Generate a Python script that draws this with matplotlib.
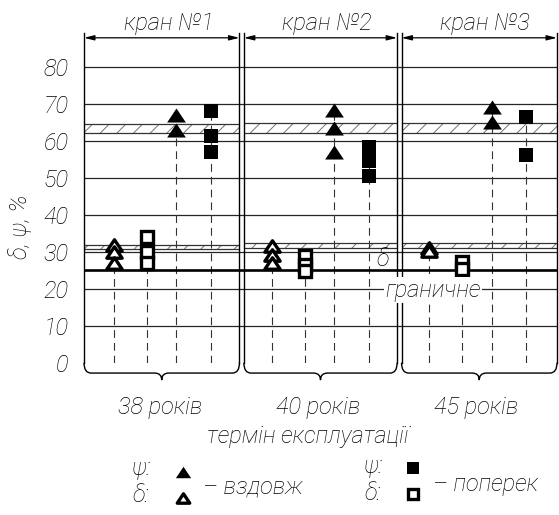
import matplotlib
matplotlib.use('Agg')
import matplotlib.pyplot as plt
from matplotlib.path import Path
from matplotlib.patches import PathPatch
from matplotlib.lines import Line2D

plt.rcParams['font.family'] = ['Roboto', 'DejaVu Sans']
plt.rcParams['font.style'] = 'italic'
plt.rcParams['font.weight'] = 'light'
plt.rcParams['hatch.linewidth'] = 0.7

# data
cranes = ['кран №1', 'кран №2', 'кран №3']
ages = ['38 років', '40 років', '45 років']
delta_long = [[31.8, 30.0, 27.0], [31.5, 29.0, 27.0], [31.0, 30.3]]
delta_trans = [[34.0, 29.8, 27.0], [28.8, 26.5, 24.8], [27.3, 25.3]]
psi_long = [[67.0, 62.8], [68.3, 63.3, 57.0], [69.0, 65.0]]
psi_trans = [[68.0, 61.3, 57.0], [58.3, 54.5, 50.5], [66.5, 56.0]]
psi_band = [(62.1, 64.6), (62.1, 64.9), (62.1, 64.9)]
delta_band = [(30.6, 31.8), (30.9, 32.3), (30.9, 32.3)]
delta_limit = 25
yticks = [0, 10, 20, 30, 40, 50, 60, 70, 80]

W, H = 559, 515
FS = 17

# triangle a bit wider than tall
tri = Path([(-1, -0.75), (1, -0.75), (0, 0.75), (-1, -0.75)], closed=True)

open_tri = dict(marker=tri, ms=11, mfc='white', mec='k', mew=2.4)
open_sq = dict(marker='s', ms=8.8, mfc='white', mec='k', mew=2.4)
full_tri = dict(marker=tri, ms=13.5, mfc='k', mec='k', mew=0)
full_sq = dict(marker='s', ms=9.4, mfc='k', mec='k', mew=0)

series = [(delta_long, open_tri), (delta_trans, open_sq),
          (psi_long, full_tri), (psi_trans, full_sq)]
slots = [0.19, 0.40, 0.585, 0.805]
g = 0.014


def brace(ax, x0, x1, y0=0.0, y1=-2.8, y2=-4.7, r=0.045):
    c = (x0 + x1) / 2
    verts = [(x0, y0), (x0, y1), (x0 + r, y1), (c - r, y1), (c, y1), (c, y2),
             (c, y1), (c + r, y1), (x1 - r, y1), (x1, y1), (x1, y0)]
    codes = [Path.MOVETO, Path.CURVE3, Path.CURVE3, Path.LINETO, Path.CURVE3, Path.CURVE3,
             Path.CURVE3, Path.CURVE3, Path.LINETO, Path.CURVE3, Path.CURVE3]
    ax.add_patch(PathPatch(Path(verts, codes), fill=False, lw=1.0, color='k', clip_on=False))


fig = plt.figure(figsize=(W / 100, H / 100), dpi=100)
ax = fig.add_axes([84 / W, 1 - 362.7 / H, 473 / W, 329.7 / H])
ax.set_xlim(0, 3)
ax.set_ylim(0, 89.1)
for s in ax.spines.values():
    s.set_visible(False)
ax.set_xticks([])
ax.set_yticks(yticks)
ax.set_yticklabels([str(t) for t in yticks], fontsize=FS)
ax.tick_params(axis='y', length=0, pad=11)

for t in yticks[1:]:
    ax.axhline(t, color='0.15', lw=0.9, zorder=1)

for x in [0, 1 - g, 1 + g, 2 - g, 2 + g, 3]:
    ax.axvline(x, color='k', lw=1.0, zorder=4, clip_on=False)

ax.axhline(delta_limit, color='k', lw=1.9, zorder=3)

for p in range(3):
    x0 = p + (g if p > 0 else 0)
    x1 = p + 1 - (g if p < 2 else 0)
    for lo, hi in [psi_band[p], delta_band[p]]:
        ax.fill_between([x0, x1], lo, hi, facecolor='white', edgecolor='0.45',
                        hatch='//', lw=0, zorder=2)
        ax.hlines([lo, hi], x0, x1, color='0.2', lw=0.9, zorder=2)

    for k, (vals, style) in enumerate(series):
        x = p + slots[k]
        v = vals[p]
        ax.vlines(x, 0, max(v), color='0.2', lw=0.8, linestyles=(0, (7, 4.5)), zorder=2)
        ax.plot([x] * len(v), v, ls='none', zorder=5, **style)

    brace(ax, x0, x1)
    ax.annotate('', xy=(x0, 87.8), xytext=(x1, 87.8), annotation_clip=False,
                arrowprops=dict(arrowstyle='<|-|>,head_length=0.6,head_width=0.15',
                                color='k', lw=0.9, shrinkA=0, shrinkB=0, mutation_scale=10))
    ax.text(p + 0.54, 91.6, cranes[p], ha='center', va='center', fontsize=FS)
    ax.text(p + 0.485, -12.0, ages[p], ha='center', va='center', fontsize=FS)

ax.text(1.896, 27.9, 'δ', ha='center', va='center', fontsize=FS, zorder=6)
ax.text(2.213, 19.6, 'граничне', ha='center', va='center', fontsize=FS, zorder=6,
        bbox=dict(facecolor='white', edgecolor='none', pad=1))

fig.text(20 / W, 1 - 227 / H, 'δ, ψ, %', rotation=90, ha='center', va='center', fontsize=FS)
fig.text(308 / W, 1 - 437 / H, 'термін експлуатації', ha='center', va='center', fontsize=FS)

# legend
fig.text(141 / W, 1 - 469 / H, 'ψ:', ha='center', va='center', fontsize=FS)
fig.text(141 / W, 1 - 496 / H, 'δ:', ha='center', va='center', fontsize=FS)
fig.text(203 / W, 1 - 487 / H, '– вздовж', ha='left', va='center', fontsize=FS)
fig.text(373 / W, 1 - 466 / H, 'ψ:', ha='center', va='center', fontsize=FS)
fig.text(373 / W, 1 - 494 / H, 'δ:', ha='center', va='center', fontsize=FS)
fig.text(433 / W, 1 - 484 / H, '– поперек', ha='left', va='center', fontsize=FS)

leg = [(183, 472, full_tri, 11), (183, 498, open_tri, 9), (413, 468, full_sq, 9),
       (413, 494, open_sq, 7.5)]
for px, py, st, ms in leg:
    st = dict(st, ms=ms)
    fig.add_artist(Line2D([px / W], [1 - py / H], transform=fig.transFigure, ls='none', **st))

fig.savefig('out.png', dpi=100)
